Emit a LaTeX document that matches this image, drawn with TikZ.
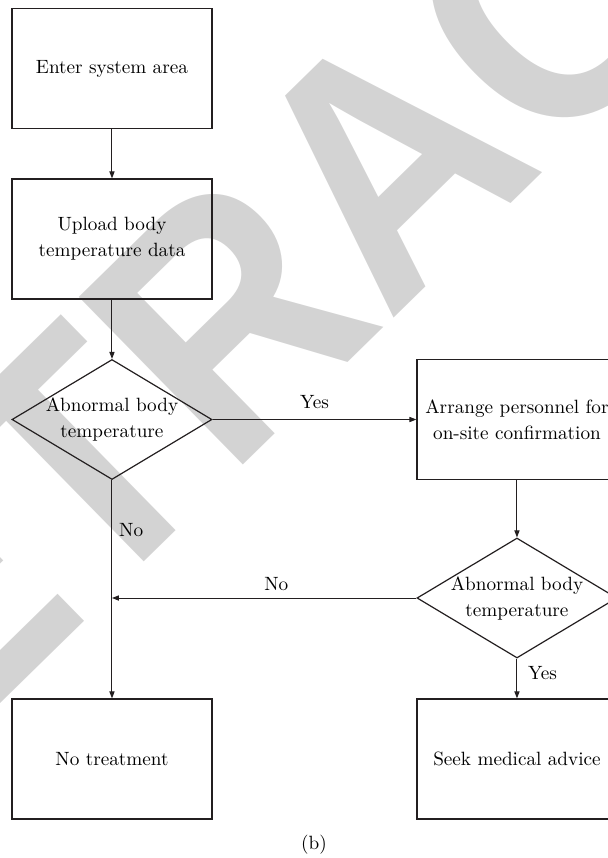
\documentclass[tikz,border=0pt]{standalone}
\usepackage{fontspec}
\newfontfamily\stampfont{Liberation Sans}
\usetikzlibrary{shapes.geometric,arrows.meta}
\definecolor{stampgray}{HTML}{D3D3D3}
\definecolor{ink}{HTML}{231F20}

\begin{document}
\begin{tikzpicture}[
	font=\fontsize{9.6}{13}\selectfont,
	process/.style={rectangle, draw=ink, line width=0.6pt, minimum width=3.515cm, minimum height=2.109cm, align=center, inner sep=0pt},
	decision/.style={diamond, draw=ink, line width=0.6pt, minimum width=3.515cm, minimum height=2.109cm, inner sep=0pt},
	flow/.style={-{Triangle[length=3.5pt,width=2.6pt]}, draw=ink, line width=0.5pt}
	]
	\useasboundingbox (0,0) rectangle (10.684,-15.078);
	\clip (0,0) rectangle (10.684,-15.078);

	% retraction stamp behind the chart
	\node[anchor=base west, rotate=44.4, yscale=1.1, inner sep=0pt, text=stampgray,
		font=\stampfont\bfseries\fontsize{155}{155}\selectfont] (stamp) at (-3.778,-16.062) {RETRACTED};

	\node[process] (enter) at (1.968,-1.204) {Enter system area};
	\node[process] (upload) at (1.968,-4.200) {Upload body\\temperature data};
	\node[decision, label={[align=center]center:Abnormal body\\temperature}] (check1) at (1.968,-7.372) {};
	\node[process] (arrange) at (9.085,-7.372) {Arrange personnel for\\on-site confirmation};
	\node[decision, label={[align=center]center:Abnormal body\\temperature}] (check2) at (9.085,-10.509) {};
	\node[process] (none) at (1.968,-13.338) {No treatment};
	\node[process] (seek) at (9.085,-13.338) {Seek medical advice};
	\coordinate (merge) at (check1 |- check2);

	\draw[flow] (enter) -- (upload);
	\draw[flow] (upload) -- (check1);
	\draw[flow] (check1) -- node[above=2pt] {Yes} (arrange);
	\draw[flow] (check1) -- node[pos=0.23, right] {No} (none);
	\draw[flow] (arrange) -- (check2);
	\draw[flow] (check2) -- node[pos=0.46, above] {No} (merge);
	\draw[flow] (check2) -- node[pos=0.37, right=2pt] {Yes} (seek);

	\node (caption) at (5.518,-14.849) {(b)};
\end{tikzpicture}
\end{document}
